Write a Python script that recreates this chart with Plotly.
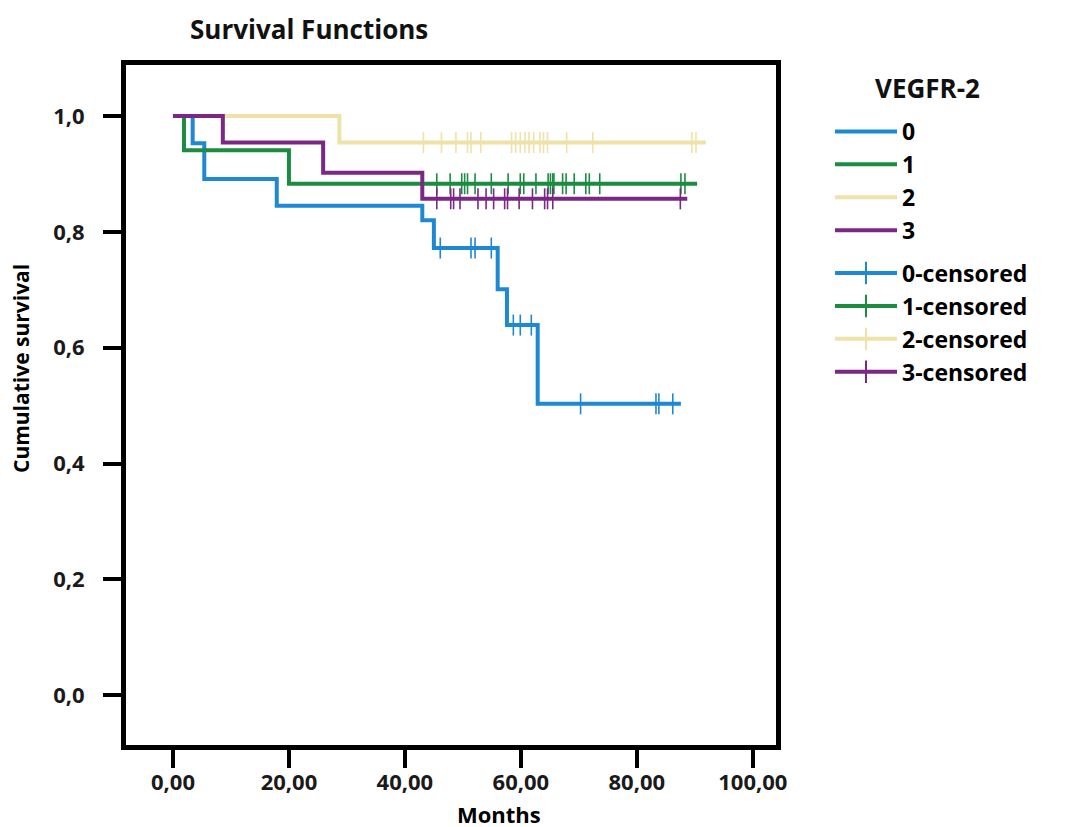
import plotly.graph_objects as go

# ---- data ----
groups = ["0", "1", "2", "3"]
colors = ["rgb(30,137,210)", "rgb(28,140,66)", "rgb(238,226,168)", "rgb(122,40,132)"]

# event times (months) and survival after each event, first point = start
t0 = [0, 3.4, 5.4, 17.9, 43.0, 45.0, 56.0, 57.6, 62.9]
s0 = [1.0, 0.953, 0.891, 0.845, 0.820, 0.772, 0.701, 0.639, 0.503]
end0 = 87.6
c0 = [46.1, 51.4, 52.1, 54.9, 58.7, 59.9, 61.8, 70.3, 83.3, 83.8, 86.2]

t1 = [0, 1.9, 20.0]
s1 = [1.0, 0.941, 0.883]
end1 = 90.4
c1 = [45.5, 47.8, 49.8, 50.3, 50.8, 52.1, 54.9, 57.8, 59.9, 60.5, 62.6, 64.7,
      65.1, 65.5, 65.7, 67.2, 67.8, 69.2, 71.2, 71.8, 73.6, 87.6, 88.3]

t2 = [0, 28.7]
s2 = [1.0, 0.954]
end2 = 91.9
c2 = [43.2, 46.3, 48.8, 50.8, 51.4, 53.1, 58.4, 59.1, 59.9, 60.7, 61.4, 62.2,
      63.3, 63.9, 64.6, 67.9, 72.4, 89.5, 90.2]

t3 = [0, 8.6, 25.9, 43.0]
s3 = [1.0, 0.954, 0.902, 0.857]
end3 = 88.7
c3 = [45.5, 47.9, 48.4, 49.5, 52.6, 54.0, 55.3, 57.2, 57.7, 59.7, 62.0, 64.1,
      64.6, 65.5, 87.5]

x_ticks = [0, 20, 40, 60, 80, 100]
y_ticks = [0.0, 0.2, 0.4, 0.6, 0.8, 1.0]

times = [t0, t1, t2, t3]
survs = [s0, s1, s2, s3]
ends = [end0, end1, end2, end3]
cens = [c0, c1, c2, c3]


def surv_at(t, ts, ss):
    val = ss[0]
    for ti, si in zip(ts, ss):
        if ti <= t:
            val = si
    return val


FONT = "Open Sans"
L, R, T, B = 118, 299, 57, 90
W, H = 1067, 827
PW, PH = W - L - R, H - T - B


def px(xp):
    return (xp - L) / PW


def py(yp):
    return (H - B - yp) / PH


fig = go.Figure()

# step curves
for g, ts, ss, e, col in zip(groups, times, survs, ends, colors):
    fig.add_trace(go.Scatter(
        x=ts + [e], y=ss + [ss[-1]], mode="lines", line_shape="hv",
        line=dict(color=col, width=4), name=g, legendrank=int(g) + 1,
        legendgroup="curves",
    ))

# censored marks
for g, ts, ss, cs, col in zip(groups, times, survs, cens, colors):
    fig.add_trace(go.Scatter(
        x=cs, y=[surv_at(c, ts, ss) for c in cs], mode="markers",
        marker=dict(symbol="line-ns", size=15, line=dict(color=col, width=1.6)),
        showlegend=False, hoverinfo="x+y", legendgroup="censored",
    ))
    # legend entry for censored
    fig.add_trace(go.Scatter(
        x=[None], y=[None], mode="lines+markers", name=g + "-censored",
        line=dict(color=col, width=4),
        marker=dict(symbol="line-ns", size=16, line=dict(color=col, width=2)),
        legendrank=int(g) + 10, legendgroup="censored",
    ))

fig.update_layout(
    width=W, height=H,
    paper_bgcolor="white", plot_bgcolor="white",
    separators=", ",
    margin=dict(l=L, r=R, t=T, b=B),
    font=dict(family=FONT, color="black"),
    title=dict(text="<b>Survival Functions</b>", x=182 / W, xanchor="left",
               y=1 - 22 / H, yanchor="middle",
               font=dict(size=26, family=FONT, color="#111")),
    showlegend=True,
    legend=dict(
        x=px(822), xanchor="left", y=py(102), yanchor="top",
        font=dict(size=23, family=FONT, color="black", weight="bold"),
        tracegroupgap=10, itemwidth=62, bgcolor="rgba(0,0,0,0)",
    ),
)

fig.update_xaxes(
    range=[-8.1, 104], tickvals=x_ticks, tickformat=".2f",
    showgrid=False, zeroline=False,
    showline=True, linecolor="black", linewidth=5, mirror=True,
    ticks="outside", ticklen=18, tickwidth=4, tickcolor="black",
    ticklabelstandoff=-4,
    tickfont=dict(size=22, family=FONT, color="#1a1a1a", weight="bold"),
)
fig.update_yaxes(
    range=[-0.086, 1.088], tickvals=y_ticks, tickformat=".1f",
    showgrid=False, zeroline=False,
    showline=True, linecolor="black", linewidth=5, mirror=True,
    ticks="outside", ticklen=18, tickwidth=4, tickcolor="black",
    ticklabelstandoff=14,
    tickfont=dict(size=22, family=FONT, color="#1a1a1a", weight="bold"),
)

fig.add_annotation(text="<b>VEGFR-2</b>", xref="paper", yref="paper",
                   x=px(919), y=py(80), xanchor="center", yanchor="middle",
                   showarrow=False, font=dict(size=26, family=FONT, color="#111"))
fig.add_annotation(text="<b>Months</b>", xref="paper", yref="paper",
                   x=px(491), y=py(806),
                   xanchor="center", yanchor="middle", showarrow=False,
                   font=dict(size=22, family=FONT, color="black"))
fig.add_annotation(text="<b>Cumulative survival</b>", xref="paper", yref="paper",
                   x=px(13), y=py(361), textangle=-90,
                   xanchor="center", yanchor="middle", showarrow=False,
                   font=dict(size=21, family=FONT, color="black"))

fig.write_html("out.html")
